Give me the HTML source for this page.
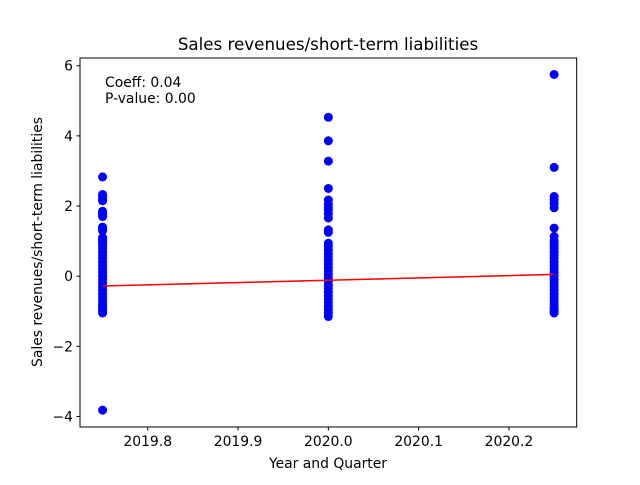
<!DOCTYPE html>
<html><head><meta charset="utf-8"><style>
body{margin:0;background:#fff}
svg text{font-family:"DejaVu Sans","Liberation Sans",sans-serif;fill:#000}
</style></head><body>
<svg id="chart" width="640" height="480" xmlns="http://www.w3.org/2000/svg">
<rect width="640" height="480" fill="#fff"/>
<text x="328" y="50" font-size="16.7" text-anchor="middle">Sales revenues/short-term liabilities</text>
<text x="328" y="468" font-size="13.9" text-anchor="middle">Year and Quarter</text>
<text transform="translate(42,242) rotate(-90)" font-size="13.9" text-anchor="middle">Sales revenues/short-term liabilities</text>
<g id="ticks"></g>
<g id="points"></g>
<g id="fit"></g>
<rect x="80" y="58" width="496.7" height="369" fill="none" stroke="#000" stroke-width="1"/>
<text x="105" y="87" font-size="13.9">Coeff: 0.04</text>
<text x="105" y="103" font-size="13.9">P-value: 0.00</text>
</svg>
<script>
const xTicks=[2019.8,2019.9,2020.0,2020.1,2020.2];
const yTicks=[-4,-2,0,2,4,6];
const groups=[2019.75,2020.0,2020.25];
const vals0=[2.83,2.33,2.28,2.2,2.15,1.85,1.8,1.75,1.7,1.4,1.35,1.3,1.1,1.05,1.0,0.95,0.9,0.8,0.7,0.6,0.5,0.4,0.3,0.2,0.1,0.0,-0.1,-0.2,-0.3,-0.4,-0.5,-0.6,-0.7,-0.8,-0.85,-0.9,-0.95,-1.0,-1.05,-3.82];
const vals1=[4.53,3.86,3.28,2.5,2.17,2.05,1.95,1.89,1.78,1.66,1.32,1.25,0.94,0.85,0.75,0.65,0.55,0.45,0.35,0.25,0.15,0.05,-0.05,-0.15,-0.25,-0.35,-0.45,-0.55,-0.65,-0.75,-0.85,-0.95,-1.05,-1.15];
const vals2=[5.75,3.1,2.27,2.17,2.07,1.95,1.37,1.13,1.0,0.9,0.8,0.7,0.6,0.5,0.4,0.3,0.2,0.1,0.0,-0.1,-0.2,-0.3,-0.4,-0.5,-0.6,-0.7,-0.8,-0.9,-0.95,-1.0,-1.05];
const fitX=[2019.75,2020.25];
const fitY=[-0.28,0.05];
const NS='http://www.w3.org/2000/svg';
const sx=v=>80+(v-2019.725)/(0.55)*496.7;
const sy=v=>58+(6.22-v)/(10.52)*369;
function mk(t,a,p){const e=document.createElementNS(NS,t);for(const k in a)e.setAttribute(k,a[k]);p.appendChild(e);return e;}
const tk=document.getElementById('ticks');
xTicks.forEach(v=>{
 const l=mk('line',{x1:sx(v),x2:sx(v),y1:427,y2:430.5,stroke:'#000'},tk);
 
 
 const t=mk('text',{x:sx(v),y:446,'font-size':13.9,'text-anchor':'middle'},tk);t.textContent=v.toFixed(1);
 
 
});
yTicks.forEach(v=>{
 const l=mk('line',{x1:76.5,x2:80,y1:sy(v),y2:sy(v),stroke:'#000'},tk);
 
 
 const t=mk('text',{x:73,y:sy(v)+5,'font-size':13.9,'text-anchor':'end'},tk);t.textContent=v<0?'\u2212'+(-v):v;
 
 
});
const pg=document.getElementById('points');
[vals0,vals1,vals2].forEach((arr,i)=>arr.forEach(v=>{
 const c=mk('circle',{cx:sx(groups[i]),cy:sy(v),r:4.5,fill:'#0000ff'},pg);
 
 
}));
const f=mk('line',{x1:sx(fitX[0]),y1:sy(fitY[0]),x2:sx(fitX[1]),y2:sy(fitY[1]),stroke:'#ff0000','stroke-width':1.5},document.getElementById('fit'));


</script>
</body></html>
